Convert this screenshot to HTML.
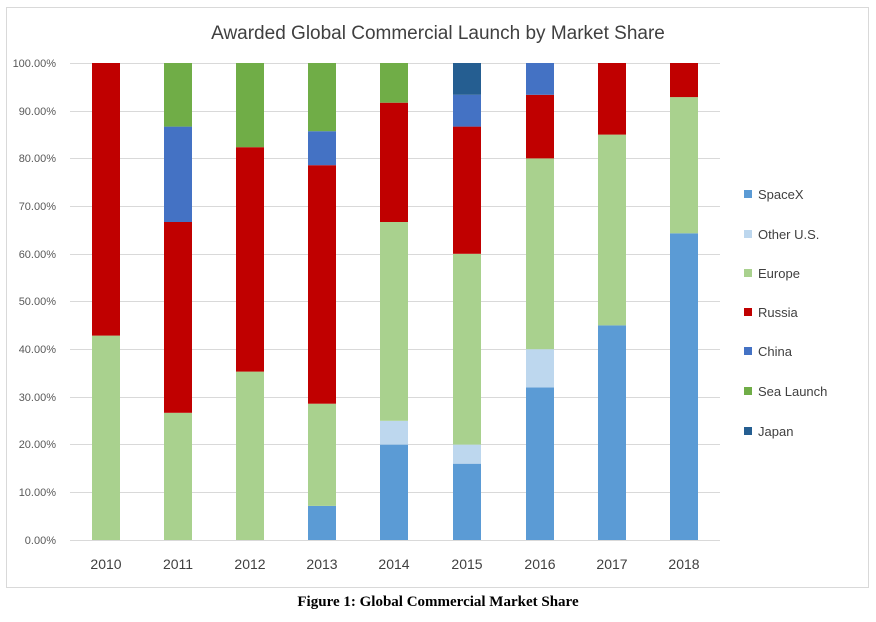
<!DOCTYPE html>
<html><head><style>body{margin:0;background:#fff}svg{display:block}</style></head><body>
<svg width="876" height="622" xmlns="http://www.w3.org/2000/svg" font-family="'Liberation Sans',sans-serif">
<rect x="6.5" y="7.5" width="862" height="580" fill="#fff" stroke="#d9d9d9"/>
<text x="438" y="39" text-anchor="middle" font-size="19" fill="#404040">Awarded Global Commercial Launch by Market Share</text>
<g stroke="#d9d9d9" stroke-width="1">
<line x1="70" x2="720" y1="63.5" y2="63.5"/><line x1="70" x2="720" y1="111.5" y2="111.5"/><line x1="70" x2="720" y1="158.5" y2="158.5"/><line x1="70" x2="720" y1="206.5" y2="206.5"/><line x1="70" x2="720" y1="254.5" y2="254.5"/><line x1="70" x2="720" y1="301.5" y2="301.5"/><line x1="70" x2="720" y1="349.5" y2="349.5"/><line x1="70" x2="720" y1="397.5" y2="397.5"/><line x1="70" x2="720" y1="444.5" y2="444.5"/><line x1="70" x2="720" y1="492.5" y2="492.5"/><line x1="70" x2="720" y1="540.5" y2="540.5"/>
</g>
<g font-size="11" fill="#595959" text-anchor="end">
<text x="56" y="67">100.00%</text><text x="56" y="115">90.00%</text><text x="56" y="162">80.00%</text><text x="56" y="210">70.00%</text><text x="56" y="258">60.00%</text><text x="56" y="305">50.00%</text><text x="56" y="353">40.00%</text><text x="56" y="401">30.00%</text><text x="56" y="448">20.00%</text><text x="56" y="496">10.00%</text><text x="56" y="544">0.00%</text>
</g>
<g id="bars"></g>
<g font-size="14" fill="#404040" text-anchor="middle">
<text x="106" y="569">2010</text><text x="178" y="569">2011</text><text x="250" y="569">2012</text><text x="322" y="569">2013</text><text x="394" y="569">2014</text><text x="467" y="569">2015</text><text x="540" y="569">2016</text><text x="612" y="569">2017</text><text x="684" y="569">2018</text>
</g>
<g font-size="13" fill="#404040">
<rect x="744" y="190" width="8" height="8" fill="#5b9bd5"/><text x="758" y="199">SpaceX</text>
<rect x="744" y="230" width="8" height="8" fill="#bdd7ee"/><text x="758" y="239">Other U.S.</text>
<rect x="744" y="269" width="8" height="8" fill="#a9d18e"/><text x="758" y="278">Europe</text>
<rect x="744" y="308" width="8" height="8" fill="#c00000"/><text x="758" y="317">Russia</text>
<rect x="744" y="347" width="8" height="8" fill="#4472c4"/><text x="758" y="356">China</text>
<rect x="744" y="387" width="8" height="8" fill="#70ad47"/><text x="758" y="396">Sea Launch</text>
<rect x="744" y="427" width="8" height="8" fill="#255e91"/><text x="758" y="436">Japan</text>
</g>
<text x="438" y="606" text-anchor="middle" font-family="'Liberation Serif',serif" font-weight="bold" font-size="15" fill="#000">Figure 1: Global Commercial Market Share</text>
<!-- bars -->
<g>
<!-- helper: y(v)=540-4.77v -->
<!-- 2010 -->
<rect x="92" y="335.6" width="28" height="204.4" fill="#a9d18e"/>
<rect x="92" y="63" width="28" height="272.6" fill="#c00000"/>
<!-- 2011 -->
<rect x="164" y="412.8" width="28" height="127.2" fill="#a9d18e"/>
<rect x="164" y="222" width="28" height="190.8" fill="#c00000"/>
<rect x="164" y="126.6" width="28" height="95.4" fill="#4472c4"/>
<rect x="164" y="63" width="28" height="63.6" fill="#70ad47"/>
<!-- 2012 -->
<rect x="236" y="371.6" width="28" height="168.4" fill="#a9d18e"/>
<rect x="236" y="147.2" width="28" height="224.4" fill="#c00000"/>
<rect x="236" y="63" width="28" height="84.2" fill="#70ad47"/>
<!-- 2013 -->
<rect x="308" y="505.9" width="28" height="34.1" fill="#5b9bd5"/>
<rect x="308" y="403.7" width="28" height="102.2" fill="#a9d18e"/>
<rect x="308" y="165.2" width="28" height="238.5" fill="#c00000"/>
<rect x="308" y="131.2" width="28" height="34" fill="#4472c4"/>
<rect x="308" y="63" width="28" height="68.2" fill="#70ad47"/>
<!-- 2014 -->
<rect x="380" y="444.6" width="28" height="95.4" fill="#5b9bd5"/>
<rect x="380" y="420.8" width="28" height="23.8" fill="#bdd7ee"/>
<rect x="380" y="222" width="28" height="198.8" fill="#a9d18e"/>
<rect x="380" y="102.7" width="28" height="119.3" fill="#c00000"/>
<rect x="380" y="63" width="28" height="39.7" fill="#70ad47"/>
<!-- 2015 -->
<rect x="453" y="463.7" width="28" height="76.3" fill="#5b9bd5"/>
<rect x="453" y="444.6" width="28" height="19.1" fill="#bdd7ee"/>
<rect x="453" y="253.8" width="28" height="190.8" fill="#a9d18e"/>
<rect x="453" y="126.6" width="28" height="127.2" fill="#c00000"/>
<rect x="453" y="94.8" width="28" height="31.8" fill="#4472c4"/>
<rect x="453" y="63" width="28" height="31.8" fill="#255e91"/>
<!-- 2016 -->
<rect x="526" y="387.4" width="28" height="152.6" fill="#5b9bd5"/>
<rect x="526" y="349.2" width="28" height="38.2" fill="#bdd7ee"/>
<rect x="526" y="158.4" width="28" height="190.8" fill="#a9d18e"/>
<rect x="526" y="94.8" width="28" height="63.6" fill="#c00000"/>
<rect x="526" y="63" width="28" height="31.8" fill="#4472c4"/>
<!-- 2017 -->
<rect x="598" y="325.4" width="28" height="214.6" fill="#5b9bd5"/>
<rect x="598" y="134.6" width="28" height="190.8" fill="#a9d18e"/>
<rect x="598" y="63" width="28" height="71.6" fill="#c00000"/>
<!-- 2018 -->
<rect x="670" y="233.3" width="28" height="306.7" fill="#5b9bd5"/>
<rect x="670" y="97.1" width="28" height="136.2" fill="#a9d18e"/>
<rect x="670" y="63" width="28" height="34.1" fill="#c00000"/>
</g>
</svg>
</body></html>
